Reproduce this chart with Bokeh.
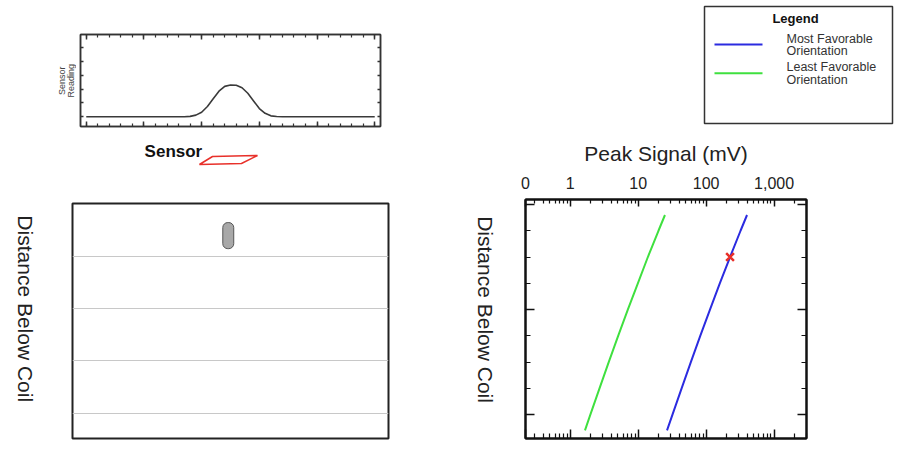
import math
from bokeh.plotting import figure
from bokeh.layouts import row, column
from bokeh.models import Range1d, FixedTicker, LinearAxis, LogAxis, Grid, CustomJSTickFormatter
from bokeh.embed import file_html
from bokeh.resources import INLINE
from bokeh.core.properties import value

FONT = "Liberation Sans"

# ---------------- data ----------------
# sensor scan (position along scan line, sensor reading)
scan_pos = [0, 0.5, 1, 1.5, 2, 2.5, 3, 3.5, 4, 4.5, 5, 5.5, 6, 6.5, 7, 7.5, 8, 8.5,
            9, 9.5, 10, 10.5, 11, 11.5, 12, 12.5, 13, 13.5, 14, 14.5, 15, 15.5, 16, 16.5,
            17, 17.5, 18, 18.5, 19, 19.5, 20, 20.5, 21, 21.5, 22, 22.5, 23, 23.5, 24, 24.5, 25]
scan_reading = [0, 0, 0, 0, 0, 0, 0, 0, 0, 0, 0, 0, 0, 0, 0, 0, 0, 0.01,
                0.03, 0.12, 0.33, 0.75, 1.3, 1.85, 2.2, 2.3, 2.28, 2.1, 1.7, 1.15, 0.6, 0.25, 0.07, 0.02,
                0, 0, 0, 0, 0, 0, 0, 0, 0, 0, 0, 0, 0, 0, 0, 0, 0]
scan_axis_title = ["Sensor", "Reading"]

# buried object position (scan position, depth)
object_pos = [12.3]
object_depth = [1.2]
depth_axis_title = "Distance Below Coil"

# peak signal vs distance below coil
depth = [0.4, 1, 2, 3, 4, 5, 6, 7, 8, 8.6]
most_favorable_mv = [400, 321, 225, 159, 114, 82, 59.6, 43.6, 32, 26.6]
least_favorable_mv = [24.8, 19.9, 13.9, 9.9, 7.05, 5.08, 3.69, 2.70, 1.98, 1.65]
signal_axis_title = "Peak Signal (mV)"

# marked target
target_depth = [2.0]
target_mv = [225]

# axis ticks
signal_ticks = [0.22, 1, 10, 100, 1000]
signal_tick_labels = ["0", "1", "10", "100", "1,000"]
signal_minor = [0.3, 0.4, 0.5, 0.6, 0.7, 0.8, 0.9,
                2, 3, 4, 5, 6, 7, 8, 9,
                20, 30, 40, 50, 60, 70, 80, 90,
                200, 300, 400, 500, 600, 700, 800, 900,
                2000, 3000]
depth_major = [0, 4, 8]
depth_minor = [1, 2, 3, 5, 6, 7]
depth_grid = [2, 4, 6, 8]
scan_major = [0, 5, 10, 15, 20, 25]
scan_minor = list(range(0, 26))
reading_ticks = [0, 1, 2, 3, 4, 5]

legend_title = "Legend"
legend_lines = [["Most Favorable", "Orientation"], ["Least Favorable", "Orientation"]]
legend_colors = ["#2b2be0", "#3fe03f"]

# sensor footprint outline (scan position units / row offset)
sensor_label = "Sensor"
sensor_outline_u = [9.81, 10.94, 14.84, 13.45]
sensor_outline_v = [24, 16, 15, 23]

BLANK = CustomJSTickFormatter(code="return ''")


def style_axis(ax, maj, mnr, lw=2, color="#111", labels=False):
    ax.major_tick_in = maj
    ax.major_tick_out = 0
    ax.minor_tick_in = mnr
    ax.minor_tick_out = 0
    ax.axis_line_width = lw
    ax.axis_line_color = color
    ax.major_tick_line_color = color
    ax.minor_tick_line_color = color
    ax.major_tick_line_width = 1.5
    ax.minor_tick_line_width = 1.2
    if not labels:
        ax.formatter = BLANK
        ax.major_label_text_font_size = "1px"
        ax.major_label_standoff = 0


def blank_fig(width, height, x_range, y_range, top=0, bottom=0):
    f = figure(width=width, height=height, x_range=x_range, y_range=y_range,
               min_border_left=0, min_border_right=0, min_border_top=top, min_border_bottom=bottom,
               x_axis_location=None, y_axis_location=None,
               output_backend="svg", toolbar_location=None)
    f.grid.visible = False
    f.outline_line_color = None
    return f


# ---------------- sensor reading plot ----------------
ps = figure(width=374, height=140, x_range=Range1d(-0.5, 25.5), y_range=Range1d(-0.7, 5.95),
            min_border_left=4, min_border_right=70, min_border_top=34, min_border_bottom=14,
            output_backend="svg", toolbar_location=None)
ps.add_layout(LinearAxis(), "above")
ps.add_layout(LinearAxis(), "right")
ps.grid.visible = False
for ax in ps.xaxis:
    ax.ticker = FixedTicker(ticks=scan_major, minor_ticks=scan_minor)
    style_axis(ax, 5, 3, lw=1.5, color="#333")
for ax in ps.yaxis:
    ax.ticker = FixedTicker(ticks=reading_ticks, minor_ticks=[])
    style_axis(ax, 3, 0, lw=1.5, color="#333")
ps.outline_line_color = "#333"
ps.outline_line_width = 1.5
ps.line(scan_pos, scan_reading, line_color="#3a3a3a", line_width=1.6)

ls = blank_fig(76, 140, Range1d(0, 76), Range1d(-0.7, 5.95), top=34, bottom=14)
ls.text(x=[61, 70], y=[2.6, 2.6], text=scan_axis_title, angle=math.pi / 2,
        text_align="center", text_baseline="middle", text_font=value(FONT),
        text_font_size="9px", text_color="#444")

# ---------------- sensor icon ----------------
u0 = -0.5 - 80 / 11.538
pi_ = blank_fig(450, 30, Range1d(u0, u0 + 450 / 11.538), Range1d(30, 0))
pi_.patch(sensor_outline_u, sensor_outline_v, fill_color=None, line_color="#e8302a", line_width=1.5)
pi_.text(x=[10.05], y=[11], text=[sensor_label], text_align="right", text_baseline="middle",
         text_font=value(FONT), text_font_size="17px", text_font_style="bold", text_color="#111")

# ---------------- object cross-section ----------------
pl = figure(width=400, height=285, x_range=Range1d(-1.2, -1.2 + 316 / 11.538),
            y_range=Range1d(8.97, -0.03),
            min_border_left=22, min_border_right=62, min_border_top=33, min_border_bottom=17,
            x_axis_location=None, y_axis_location=None,
            output_backend="svg", toolbar_location=None)
pl.grid.visible = False
pl.add_layout(Grid(dimension=1, ticker=FixedTicker(ticks=depth_grid),
                   grid_line_color="#c8c8c8", grid_line_width=1.2))
pl.outline_line_color = "#222"
pl.outline_line_width = 2
pl.rect(x=object_pos, y=object_depth, width=0.95, height=1.0, border_radius=5,
        fill_color="#a8a8a8", line_color="#555", line_width=1)

ll = blank_fig(50, 285, Range1d(0, 50), Range1d(8.97, -0.03), top=33, bottom=17)
ll.text(x=[25], y=[4.0], text=[depth_axis_title], angle=-math.pi / 2,
        text_align="center", text_baseline="middle", text_font=value(FONT),
        text_font_size="21px", text_color="#222")

# ---------------- legend ----------------
pg = figure(width=449, height=130, x_range=Range1d(0, 188), y_range=Range1d(117, 0),
            min_border_left=254, min_border_right=7, min_border_top=6, min_border_bottom=7,
            x_axis_location=None, y_axis_location=None,
            output_backend="svg", toolbar_location=None)
pg.grid.visible = False
pg.outline_line_color = "#333"
pg.outline_line_width = 1.5
pg.text(x=[91], y=[12], text=[legend_title], text_align="center", text_baseline="middle",
        text_font=value(FONT), text_font_size="13px", text_font_style="bold", text_color="#111")
for i, (lines, col) in enumerate(zip(legend_lines, legend_colors)):
    yc = 38 + i * 28.7
    pg.line([10, 58], [yc, yc], line_color=col, line_width=2)
    pg.text(x=[82, 82], y=[yc - 6, yc + 6.5], text=lines, text_align="left", text_baseline="middle",
            text_font=value(FONT), text_font_size="12.5px", text_color="#333")

# ---------------- peak signal plot ----------------
pr = figure(width=394, height=325, x_axis_type="log", x_axis_location="above",
            x_range=Range1d(0.22, 3000), y_range=Range1d(8.91, -0.19),
            min_border_left=20, min_border_right=93, min_border_top=69, min_border_bottom=17,
            output_backend="svg", toolbar_location=None)
pr.add_layout(LogAxis(), "below")
pr.add_layout(LinearAxis(), "right")
pr.grid.visible = False
for ax in pr.xaxis:
    ax.ticker = FixedTicker(ticks=signal_ticks, minor_ticks=signal_minor)
    style_axis(ax, 9, 5)
top = pr.above[0]
style_axis(top, 7, 4, labels=True)
top.major_label_overrides = {t: l for t, l in zip(signal_ticks, signal_tick_labels)}
top.major_label_text_font = FONT
top.major_label_text_font_size = "16px"
top.major_label_text_color = "#222"
top.major_label_standoff = 11
top.axis_label = signal_axis_title
top.axis_label_text_font = FONT
top.axis_label_text_font_size = "21px"
top.axis_label_text_font_style = "normal"
top.axis_label_text_color = "#222"
top.axis_label_standoff = 9
for ax in pr.yaxis:
    ax.ticker = FixedTicker(ticks=depth_major, minor_ticks=depth_minor)
    style_axis(ax, 9, 5)
pr.outline_line_color = "#111"
pr.outline_line_width = 2
pr.line(most_favorable_mv, depth, line_color=legend_colors[0], line_width=2)
pr.line(least_favorable_mv, depth, line_color=legend_colors[1], line_width=2)
pr.scatter(target_mv, target_depth, marker="x", size=11, line_color="#e8302a", line_width=2.5)

lr = blank_fig(55, 325, Range1d(0, 55), Range1d(8.91, -0.19), top=69, bottom=17)
lr.text(x=[35], y=[4.0], text=[depth_axis_title], angle=-math.pi / 2,
        text_align="center", text_baseline="middle", text_font=value(FONT),
        text_font_size="21px", text_color="#222")

layout = row(column(row(ls, ps), row(pi_), row(ll, pl), spacing=0),
             column(row(pg), row(lr, pr), spacing=0), spacing=0)
open("out.html", "w").write(file_html(layout, INLINE))
